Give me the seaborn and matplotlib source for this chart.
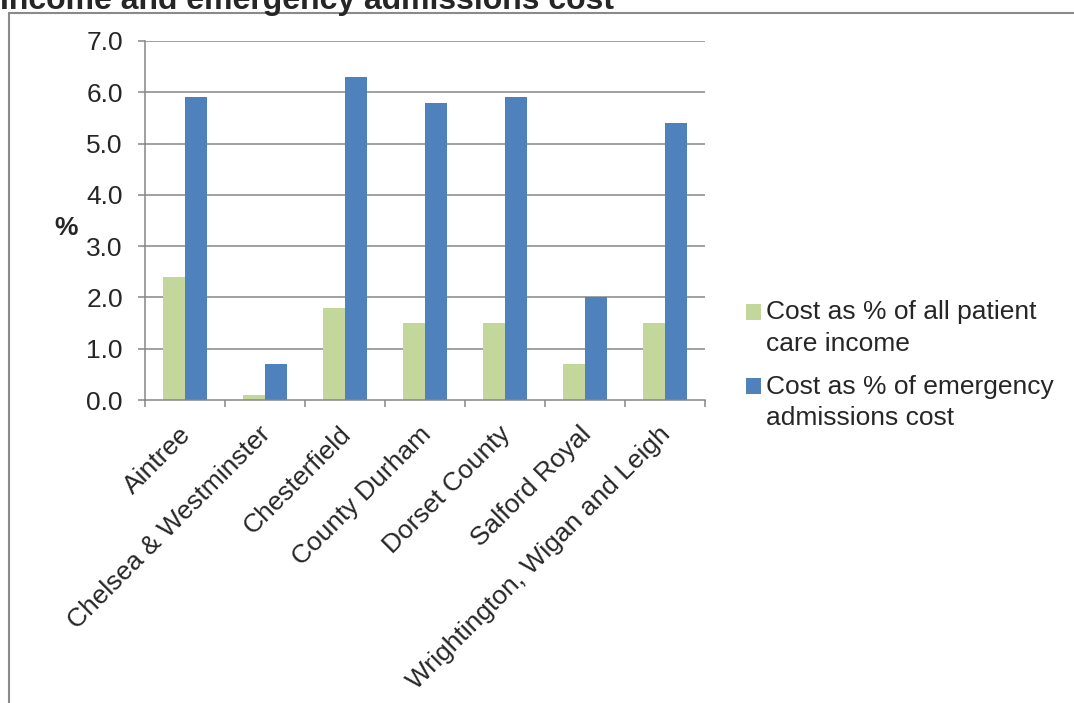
import matplotlib
matplotlib.use("Agg")
import matplotlib.pyplot as plt
import matplotlib.transforms as mtransforms
from matplotlib.lines import Line2D
from matplotlib.patches import Patch, Rectangle
from matplotlib.legend_handler import HandlerPatch
import seaborn as sns
import pandas as pd
import numpy as np

categories = ["Aintree", "Chelsea & Westminster", "Chesterfield", "County Durham",
              "Dorset County", "Salford Royal", "Wrightington, Wigan and Leigh"]
income_pct = [2.4, 0.1, 1.8, 1.5, 1.5, 0.7, 1.5]
emergency_pct = [5.9, 0.7, 6.3, 5.8, 5.9, 2.0, 5.4]
series_names = ["Cost as % of all patient care income",
                "Cost as % of emergency admissions cost"]
legend_labels = ["Cost as % of all patient\ncare income",
                 "Cost as % of emergency\nadmissions cost"]
colors = ["#C3D69B", "#4F81BD"]
yticks = [0, 1, 2, 3, 4, 5, 6, 7]

sns.set_style("white")
plt.rcParams['font.family'] = ['Liberation Sans', 'DejaVu Sans']
FS = 19

df = pd.DataFrame({
    "Trust": categories * 2,
    "Value": income_pct + emergency_pct,
    "Series": [series_names[0]] * len(categories) + [series_names[1]] * len(categories),
})

fig = plt.figure(figsize=(10.74, 7.03), dpi=100)
ax = fig.add_axes([145/1074, 1 - 400/703, 560/1074, 359/703])

sns.barplot(data=df, x="Trust", y="Value", hue="Series", order=categories,
            hue_order=series_names, palette=colors, saturation=1, width=0.56,
            ax=ax, legend=False, linewidth=0)

grid_c = "#868686"
ax.set_ylim(0, 7)
ax.set_xlim(-0.5, len(categories) - 0.5)
ax.set_yticks(yticks)
ax.set_yticklabels([f"{v:.1f}" for v in yticks], fontsize=FS)
for v in yticks[1:]:
    ax.axhline(v, color=grid_c, lw=1.1, zorder=0)
ax.set_axisbelow(True)

for s in ["top", "right"]:
    ax.spines[s].set_visible(False)
for s in ["left", "bottom"]:
    ax.spines[s].set_color(grid_c)
    ax.spines[s].set_linewidth(1.1)

ax.tick_params(axis="y", length=5, width=1.1, color=grid_c, pad=11, left=True)
ax.set_xticks(np.arange(len(categories)))
ax.set_xticklabels(categories, rotation=45, ha="right", va="center",
                   rotation_mode="anchor", fontsize=FS)
ax.tick_params(axis="x", which="major", length=0, pad=22)
offset = mtransforms.ScaledTranslation(1.5/72, 0, fig.dpi_scale_trans)
for lab in ax.get_xticklabels():
    lab.set_transform(lab.get_transform() + offset)
ax.set_xticks(np.arange(-0.5, len(categories)), minor=True)
ax.tick_params(axis="x", which="minor", length=5, width=1.1, color=grid_c, bottom=True)

ax.set_xlabel("")
ax.set_ylabel("%", rotation=0, fontsize=FS, fontweight="bold", va="center", ha="center")
ax.yaxis.set_label_coords(-0.14, 0.48)


def top_square(legend, orig_handle, xdescent, ydescent, width, height, fontsize):
    return Rectangle((-xdescent, -ydescent + 0.62 * fontsize), width, height)


handles = [Patch(facecolor=c, edgecolor="none") for c in colors]
leg = fig.legend(handles, legend_labels, loc="upper left",
                 bbox_to_anchor=(746/1074, 1 - 300/703),
                 frameon=False, fontsize=FS, handlelength=0.55, handleheight=0.55,
                 handletextpad=0.2, labelspacing=0.72, borderpad=0, borderaxespad=0,
                 handler_map={Patch: HandlerPatch(patch_func=top_square)})
for t in leg.get_texts():
    t.set_linespacing(1.4)

# outer chart border (partially visible)
fig.add_artist(Line2D([9/1074, 9/1074], [0, 1 - 13/703], transform=fig.transFigure,
                      color="#8a8a8a", lw=1.5))
fig.add_artist(Line2D([9/1074, 1], [1 - 13/703, 1 - 13/703], transform=fig.transFigure,
                      color="#8a8a8a", lw=1.5))

fig.text(0.0, 1 - 9/703, "Income and emergency admissions cost", fontsize=23,
         fontweight="bold", ha="left", va="baseline")

fig.savefig("out.png", dpi=100)
